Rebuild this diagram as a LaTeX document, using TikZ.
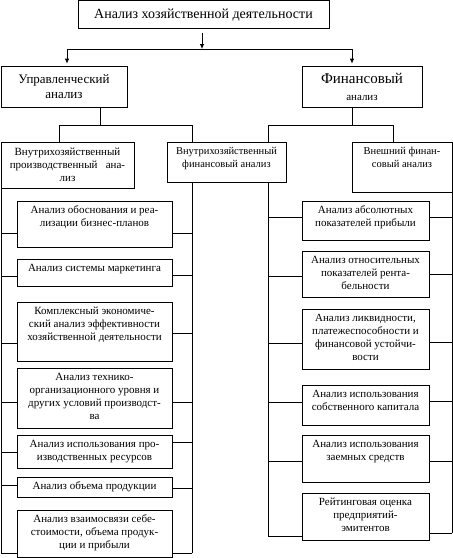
\documentclass[tikz,border=0pt]{standalone}
\usepackage{fontspec}
\setmainfont{Liberation Serif}
\usetikzlibrary{arrows.meta}
\newcommand\bt[3]{\parbox[c][#1pt][t]{#2pt}{\centering\vspace*{3.5pt}\strut #3\par}}
\begin{document}
\begin{tikzpicture}[x=1pt,y=-1pt,
  box/.style={draw, line width=0.8pt, inner sep=0pt, align=center},
  item/.style={draw, line width=0.8pt, inner sep=0pt, font=\fontsize{11}{13}\selectfont},
  ln/.style={line width=0.8pt},
  arr/.style={line width=0.8pt, -{Latex[length=5pt,width=4.5pt]}}]
\useasboundingbox (0,0) rectangle (453,558);
% header boxes
\node[box, minimum width=251, minimum height=28, font=\fontsize{14}{15}\selectfont] (top) at (203.5,14.6) {Анализ хозяйственной деятельности};
\node[box, minimum width=126, minimum height=41, font=\fontsize{13}{15}\selectfont] (upr) at (64,86.5) {Управленческий\\анализ};
\node[box, minimum width=120, minimum height=41, font=\fontsize{11}{17}\selectfont] (fin) at (362,86.5) {{\fontsize{15}{17}\selectfont Финансовый}\\анализ};
\node[box, minimum width=133, minimum height=46, font=\fontsize{11}{13}\selectfont] (vp) at (67.5,165) {Внутрихозяйственный\\производственный\ \ \ ана-\\лиз};
\node[item, font=\fontsize{10.5}{13}\selectfont] (vf) at (226.5,162) {\bt{40}{119}{Внутрихозяйственный\\финансовый анализ}};
\node[item, font=\fontsize{10.5}{13}\selectfont] (ext) at (402,167) {\bt{50}{100}{Внешний финан-\\совый анализ}};
% left column items
\node[item] (L1) at (94.5,224) {\bt{46}{155}{Анализ обоснования и реа-\\лизации бизнес-планов}};
\node[item] (L2) at (94.5,272.5) {\bt{27}{155}{Анализ системы маркетинга}};
\node[item] (L3) at (94.5,331.5) {\bt{59}{155}{Комплексный экономиче-\\ский анализ эффективности\\хозяйственной деятельности}};
\node[item] (L4) at (94.5,398) {\bt{60}{155}{Анализ технико-\\организационного уровня и\\других условий производст-\\ва}};
\node[item] (L5) at (94.5,451.5) {\bt{33}{155}{Анализ использования про-\\изводственных ресурсов}};
\node[item] (L6) at (94.5,487) {\bt{20}{155}{\vspace*{-3pt}Анализ объема продукции}};
\node[item] (L7) at (94.5,533.5) {\bt{47}{155}{Анализ взаимосвязи себе-\\стоимости, объема продук-\\ции и прибыли}};
% right column items
\node[item] (R1) at (365.5,220.5) {\bt{39}{127}{Анализ абсолютных\\показателей прибыли}};
\node[item] (R2) at (365.5,274) {\bt{46}{127}{Анализ относительных\\показателей рента-\\бельности}};
\node[item] (R3) at (365.5,339) {\bt{60}{127}{Анализ ликвидности,\\платежеспособности и\\финансовой устойчи-\\вости}};
\node[item] (R4) at (365.5,405) {\bt{40}{127}{Анализ использования\\собственного капитала}};
\node[item] (R5) at (365.5,458.5) {\bt{47}{127}{Анализ использования\\заемных средств}};
\node[item] (R6) at (365.5,516.5) {\bt{47}{127}{Рейтинговая оценка\\предприятий-\\эмитентов}};
% top arrows
\coordinate (split) at (202,49);
\coordinate (splitL) at (67,49);
\coordinate (splitR) at (352,49);
\draw[arr, shorten <=3.5pt] (top.south -| split) -- (split);
\draw[ln] (splitL) -- (splitR);
\draw[arr, shorten >=2pt] (splitL) -- (upr.north -| splitL);
\draw[arr, shorten >=2pt] (splitR) -- (fin.north -| splitR);
% brackets
\coordinate (bl) at (100,125); \coordinate (bl1) at (59,125); \coordinate (bl2) at (192,125);
\draw[ln] (upr.south -| bl) -- (bl);
\draw[ln] (bl1) -- (bl2);
\draw[ln] (bl1) -- (vp.north -| bl1);
\draw[ln] (bl2) -- (vf.north -| bl2);
\coordinate (br) at (352,125); \coordinate (br1) at (268,125); \coordinate (br2) at (393,125);
\draw[ln] (fin.south -| br) -- (br);
\draw[ln] (br1) -- (br2);
\draw[ln] (br1) -- (vf.north -| br1);
\draw[ln] (br2) -- (ext.north -| br2);
% spines
\coordinate (sL) at (1,553);
\coordinate (sM1) at (192,553);
\coordinate (sM2) at (268,536);
\coordinate (sR) at (452,533);
\draw[ln] (vp.south -| sL) -- (sL);
\draw[ln] (vf.south -| sM1) -- (sM1);
\draw[ln] (vf.south -| sM2) -- (sM2);
\draw[ln] (ext.south -| sR) -- (sR);
% left column branches
\draw[ln] (L1.west |- 0,233) -- (sL |- 0,233);  \draw[ln] (L1.east |- 0,233) -- (sM1 |- 0,233);
\draw[ln] (L2.west |- 0,276) -- (sL |- 0,276);  \draw[ln] (L2.east |- 0,275) -- (sM1 |- 0,275);
\draw[ln] (L3.west |- 0,343) -- (sL |- 0,343);  \draw[ln] (L3.east |- 0,333) -- (sM1 |- 0,333);
\draw[ln] (L4.west |- 0,402) -- (sL |- 0,402);  \draw[ln] (L4.east |- 0,402) -- (sM1 |- 0,402);
\draw[ln] (L5.west |- 0,452) -- (sL |- 0,452);  \draw[ln] (L5.east |- 0,442) -- (sM1 |- 0,442);
\draw[ln] (L6.west |- 0,485) -- (sL |- 0,485);  \draw[ln] (L6.east |- 0,488) -- (sM1 |- 0,488);
\draw[ln] (L7.west |- 0,553) -- (sL);           \draw[ln] (L7.east |- 0,553) -- (sM1);
% right column branches
\draw[ln] (R1.west |- 0,217) -- (sM2 |- 0,217);  \draw[ln] (R1.east |- 0,217) -- (sR |- 0,217);
\draw[ln] (R2.west |- 0,276) -- (sM2 |- 0,276);  \draw[ln] (R2.east |- 0,274) -- (sR |- 0,274);
\draw[ln] (R3.west |- 0,343) -- (sM2 |- 0,343);  \draw[ln] (R3.east |- 0,342) -- (sR |- 0,342);
\draw[ln] (R4.west |- 0,402) -- (sM2 |- 0,402);  \draw[ln] (R4.east |- 0,401) -- (sR |- 0,401);
\draw[ln] (R5.west |- 0,461) -- (sM2 |- 0,461);  \draw[ln] (R5.east |- 0,461) -- (sR |- 0,461);
\draw[ln] (R6.west |- 0,536) -- (sM2);           \draw[ln] (R6.east |- 0,533) -- (sR);
\end{tikzpicture}
\end{document}
